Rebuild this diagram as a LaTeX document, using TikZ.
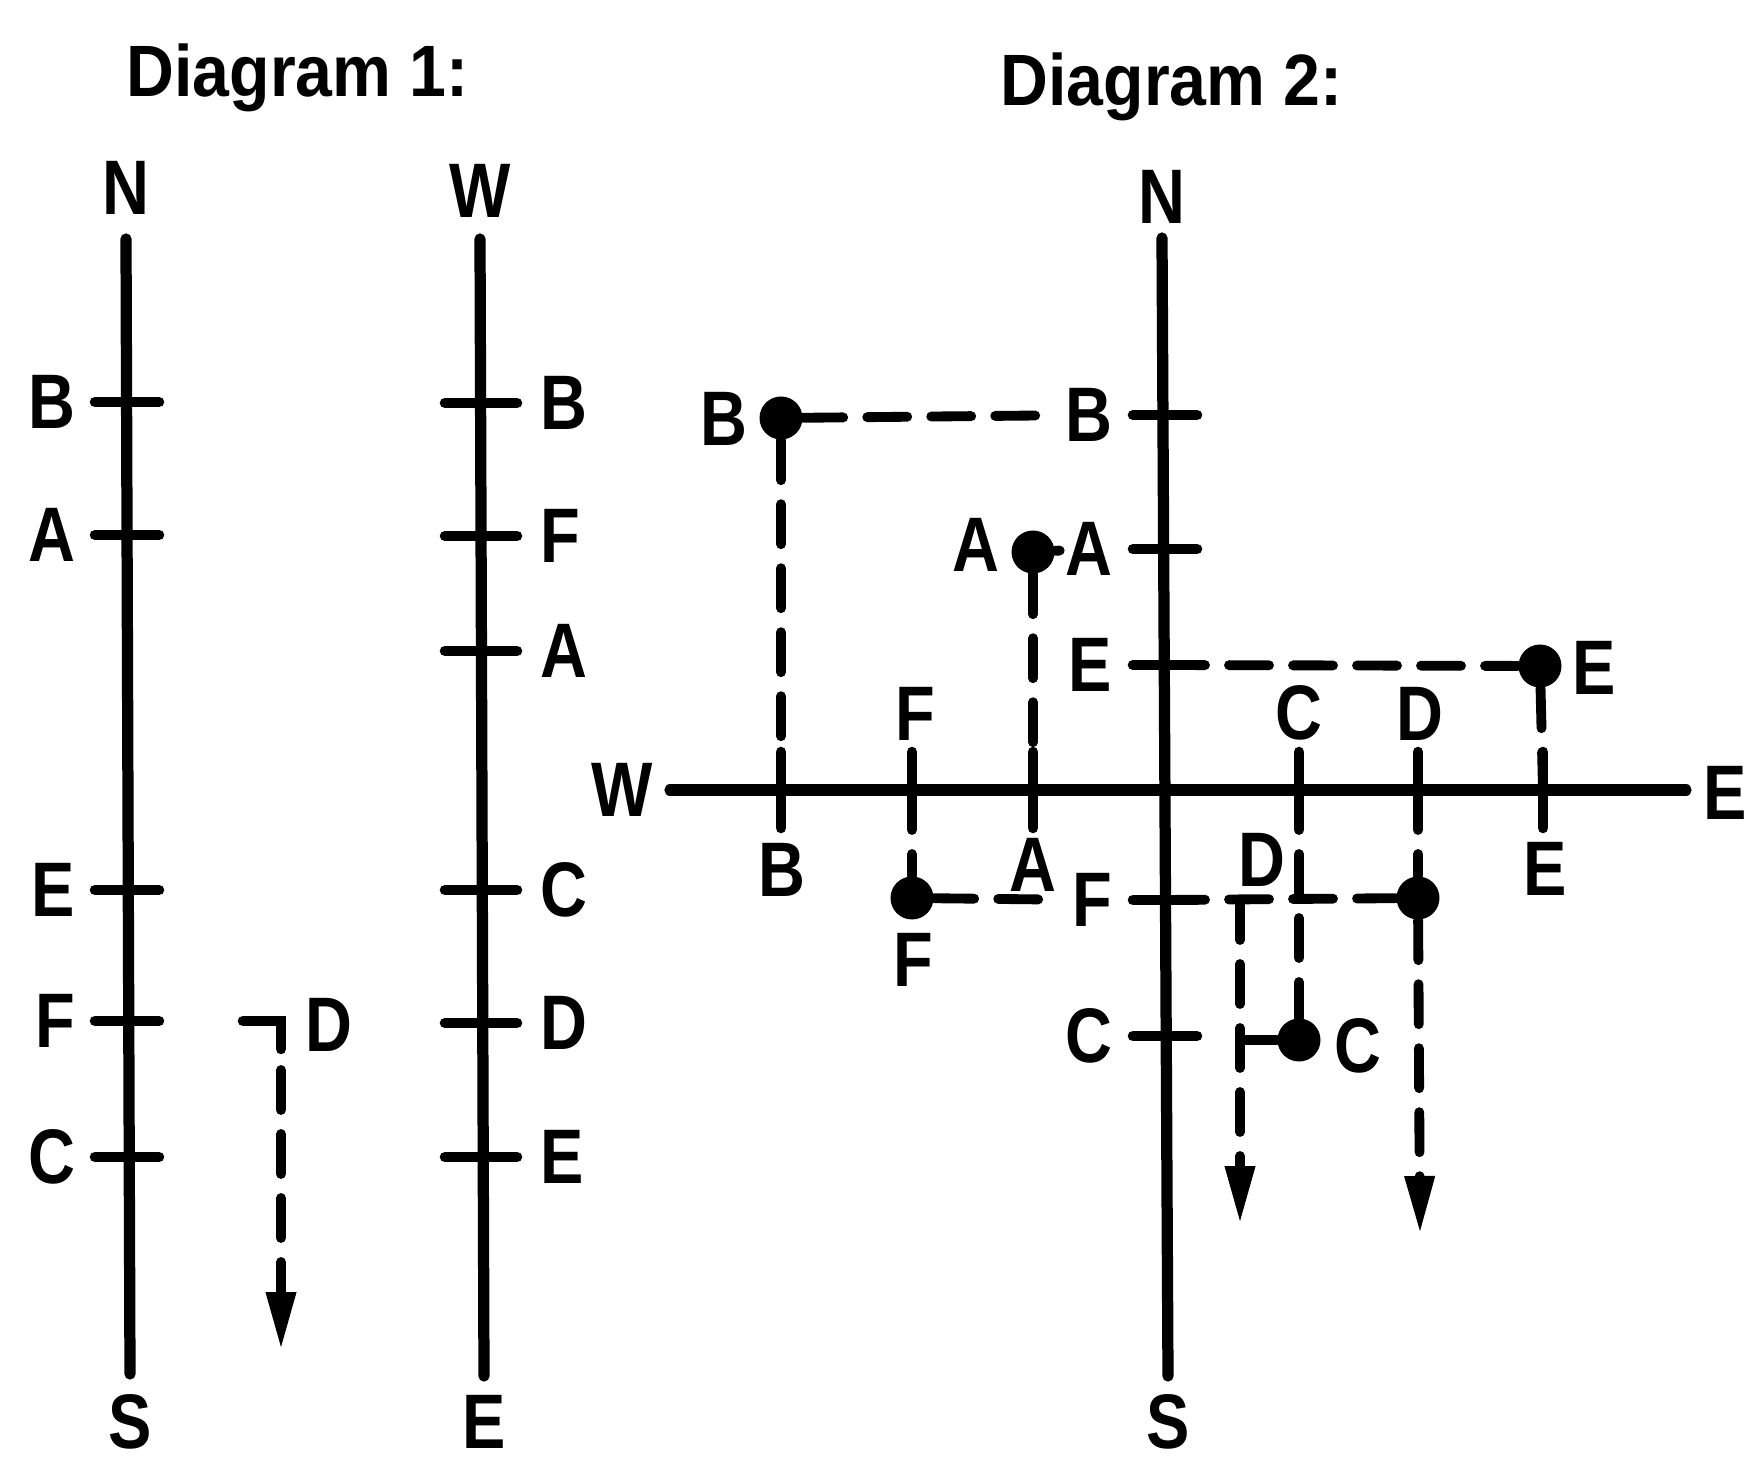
\documentclass[tikz,border=0pt]{standalone}
\usepackage{fontspec}
\newfontfamily\labelfont{Liberation Sans}[FakeStretch=0.84]
\newfontfamily\titlefont{Liberation Sans}[FakeStretch=0.91]
\usetikzlibrary{arrows.meta, positioning}

\begin{document}
\begin{tikzpicture}[x=1mm, y=-1mm, >={Triangle[length=5.8mm, width=2.8mm]},
        axis/.style={line width=3.2pt, line cap=round},
        tickmark/.style={line width=3pt, line cap=round},
        dashline/.style={line width=2.8pt, line cap=round, dash pattern=on 4mm off 2.4mm},
        lab/.style={font=\labelfont\bfseries\fontsize{22}{26}\selectfont, inner sep=0pt},
        heading/.style={font=\titlefont\bfseries\fontsize{20.7}{25}\selectfont, inner sep=0pt, anchor=base west},
        dot/.style={circle, fill, inner sep=0pt, minimum size=4.3mm}]

    \useasboundingbox (0,0) rectangle (174.4,146.5);

    % titles
    \node[heading] (title1) at (12.6,9.7) {Diagram 1:};
    \node[heading] (title2) at (100.0,10.55) {Diagram 2:};

    % Diagram 1: north-south scale
    \coordinate (nstop) at (12.6,23.9);
    \coordinate (nsbot) at (13.0,137.4);
    \draw[axis] (nstop) -- (nsbot);
    \node[lab] (nsN) at (12.6,18.8) {N};
    \node[lab] (nsS) at (13.0,142.2) {S};
    \foreach \name/\ypos in {B/40.2, A/53.5, E/89.0, F/102.1, C/115.7} {
        \draw[tickmark] (9.5,\ypos) -- (15.9,\ypos);
        \node[lab, anchor=east] (ns\name) at (7.6,\ypos) {\name};
    }

    % Diagram 1: west-east scale
    \coordinate (wetop) at (48.0,23.9);
    \coordinate (webot) at (48.4,137.6);
    \draw[axis] (wetop) -- (webot);
    \node[lab] (weW) at (48.0,19.1) {W};
    \node[lab] (weE) at (48.4,142.2) {E};
    \foreach \name/\ypos in {B/40.3, F/53.6, A/65.1, C/89.0, D/102.3, E/115.7} {
        \draw[tickmark] (44.5,\ypos) -- (51.7,\ypos);
        \node[lab, anchor=west] (we\name) at (54.0,\ypos) {\name};
    }

    % Diagram 1: D lies off the scale
    \coordinate (dhook) at (24.3,102.1);
    \coordinate (dbend) at (28.1,102.1);
    \coordinate (dstem) at (28.1,107.0);
    \coordinate (dtip) at (28.1,135.0);
    \draw[tickmark] (dhook) -- (dbend) -- ++(0,2.8);
    \draw[dashline, ->] (dstem) -- (dtip);
    \node[lab, anchor=west] (dlab) at (30.5,102.5) {D};

    % Diagram 2: axes
    \coordinate (ntop) at (116.2,23.8);
    \coordinate (sbot) at (116.8,137.6);
    \coordinate (wleft) at (67.0,79.0);
    \coordinate (eright) at (168.6,79.0);
    \draw[axis] (ntop) -- (sbot);
    \draw[axis] (wleft) -- (eright);
    \node[lab] (axN) at (116.2,19.7) {N};
    \node[lab] (axS) at (116.8,142.2) {S};
    \node[lab, anchor=east] (axW) at (65.3,79.0) {W};
    \node[lab, anchor=west] (axE) at (170.3,79.3) {E};

    \foreach \name/\ypos in {B/41.5, A/54.9, E/66.5, F/90.0, C/103.6} {
        \draw[tickmark] (113.3,\ypos) -- (119.7,\ypos);
        \coordinate (v\name) at (116.5,\ypos);
        \node[lab, anchor=east] (vl\name) at (111.3,\ypos) {\name};
    }
    \foreach \name/\xpos in {B/78.1, F/91.2, A/103.3, C/129.9, D/141.8, E/154.3} {
        \draw[tickmark] (\xpos,75.2) -- (\xpos,82.8);
        \coordinate (h\name) at (\xpos,79.0);
    }
    \node[lab, anchor=south] (hlF) at (91.5,74.1) {F};
    \node[lab, anchor=south] (hlC) at (129.9,74.1) {C};
    \node[lab, anchor=south] (hlD) at (142.0,74.1) {D};
    \node[lab, anchor=north] (hlB) at (78.2,84.3) {B};
    \node[lab, anchor=north] (hlA) at (103.3,83.8) {A};
    \node[lab, anchor=north] (hlE) at (154.5,84.2) {E};
    \node[lab, anchor=north] (hlD2) at (126.2,83.3) {D};

    % Diagram 2: plotted points
    \node[dot] (ptB) at (78.1,41.8) {};
    \node[dot] (ptA) at (103.3,55.2) {};
    \node[dot] (ptE) at (154.0,66.6) {};
    \node[dot] (ptF) at (91.2,89.8) {};
    \node[dot] (ptD) at (141.8,89.8) {};
    \node[dot] (ptC) at (129.9,104.0) {};
    \node[lab, anchor=east] (lbB) at (74.8,41.9) {B};
    \node[lab, anchor=east] (lbA) at (100.0,54.5) {A};
    \node[lab, anchor=west] (lbE) at (157.2,66.8) {E};
    \node[lab, anchor=north] (lbF) at (91.3,93.3) {F};
    \node[lab, anchor=west] (lbC) at (133.4,104.6) {C};

    \coordinate (tTop) at (124.0,90.0);
    \coordinate (tC) at (124.0,104.0);
    \coordinate (tTip) at (124.0,122.4);
    \coordinate (dTip) at (142.0,123.4);

    % Diagram 2: projections
    \draw[dashline, shorten >=1.5mm] (ptB) -- (vlB);
    \draw[dashline] (ptB) -- (hB);
    \draw[dashline, shorten >=0.5mm] (ptA) -- (vlA);
    \draw[dashline] (ptA) -- (hA);
    \draw[dashline] (vE) -- (ptE);
    \draw[dashline] (ptE) -- (hE);
    \draw[dashline] (hF) -- (ptF);
    \draw[dashline, shorten >=1.5mm] (ptF) -- (vlF);
    \draw[dashline] (vF) -- (ptD);
    \draw[dashline] (hC) -- (ptC);
    \draw[tickmark] (tC) -- (ptC);
    \draw[dashline, ->] (tTop) -- (tTip);
    \draw[dashline] (hD) -- (ptD);
    \draw[dashline, ->] (ptD) -- (dTip);
\end{tikzpicture}
\end{document}
